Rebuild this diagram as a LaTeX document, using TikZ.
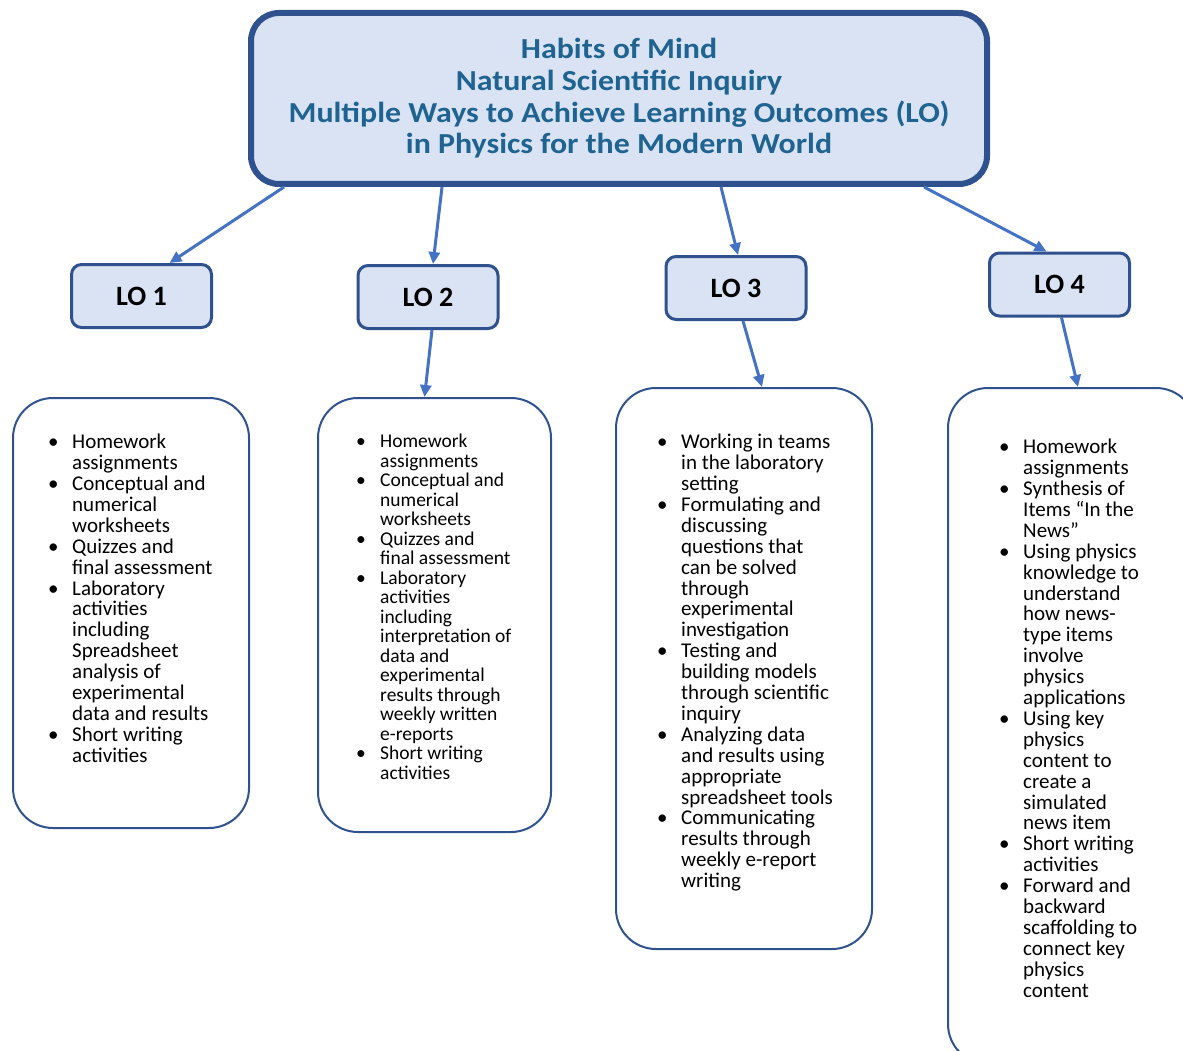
\documentclass[tikz,border=0pt]{standalone}
\usepackage{fontspec}
\setmainfont{Carlito}
\newfontfamily\titlefont[FakeStretch=1.1]{Carlito}
\usetikzlibrary{positioning, arrows.meta, calc}

\definecolor{boxfill}{HTML}{DAE3F3}
\definecolor{boxline}{HTML}{2F528F}
\definecolor{arrowblue}{HTML}{4472C4}
\definecolor{titleblue}{HTML}{1F6391}

\newcommand{\bul}{\makebox[24pt][l]{\textbullet}}
\newcommand{\ind}{\hspace*{24pt}}

\begin{document}
\begin{tikzpicture}[
        x=1pt, y=-1pt,
        >={Triangle[length=12pt, width=11pt]},
        headbox/.style={draw=boxline, line width=6pt, fill=boxfill, rounded corners=28pt, minimum width=736pt, minimum height=171pt, align=center, text=titleblue, font=\titlefont\bfseries\fontsize{29}{31.7}\selectfont},
        lobox/.style={draw=boxline, line width=3pt, fill=boxfill, rounded corners=10pt, minimum width=140pt, minimum height=63pt, font=\bfseries\fontsize{28}{30}\selectfont},
        listbox/.style={draw=boxline, line width=2pt, rounded corners=40pt},
        listtext/.style={anchor=north west, inner sep=0pt, align=left, font=\fontsize{21}{20.9}\selectfont},
        link/.style={->, draw=arrowblue, line width=3pt}
        ]

        \useasboundingbox (0,0) rectangle (1183,1051);
        \clip (0,0) rectangle (1183,1051);

        % Nodes
        \node[headbox] (Head) at (619, 98.5) {Habits of Mind \\ Natural Scientific Inquiry \\ Multiple Ways to Achieve Learning Outcomes (LO) \\ in Physics for the Modern World};

        \node[lobox] (LOa) at (141.5, 296) {LO 1};
        \node[lobox] (LOb) at (428, 297) {LO 2};
        \node[lobox] (LOc) at (736, 288) {LO 3};
        \node[lobox] (LOd) at (1059.5, 284.5) {LO 4};

        % Boxes with the lists
        \node[listbox, minimum width=236pt, minimum height=430pt] (Lista) at (131, 613) {};
        \node[listbox, minimum width=233pt, minimum height=434pt] (Listb) at (434.5, 615) {};
        \node[listbox, minimum width=256pt, minimum height=561pt] (Listc) at (744, 668.5) {};
        \node[listbox, minimum width=248pt, minimum height=676pt] (Listd) at (1072, 726) {};

        \node[listtext] (Texta) at ([xshift=36pt, yshift=-37pt]Lista.north west) {
            \bul Homework \\ \ind assignments \\
            \bul Conceptual and \\ \ind numerical \\ \ind worksheets \\
            \bul Quizzes and \\ \ind final assessment \\
            \bul Laboratory \\ \ind activities \\ \ind including \\ \ind Spreadsheet \\ \ind analysis of \\ \ind experimental \\ \ind data and results \\
            \bul Short writing \\ \ind activities};

        \node[listtext, font=\fontsize{19.5}{19.5}\selectfont] (Textb) at ([xshift=39pt, yshift=-37pt]Listb.north west) {
            \bul Homework \\ \ind assignments \\
            \bul Conceptual and \\ \ind numerical \\ \ind worksheets \\
            \bul Quizzes and \\ \ind final assessment \\
            \bul Laboratory \\ \ind activities \\ \ind including \\ \ind interpretation of \\ \ind data and \\ \ind experimental \\ \ind results through \\ \ind weekly written \\ \ind e-reports \\
            \bul Short writing \\ \ind activities};

        \node[listtext] (Textc) at ([xshift=42pt, yshift=-47pt]Listc.north west) {
            \bul Working in teams \\ \ind in the laboratory \\ \ind setting \\
            \bul Formulating and \\ \ind discussing \\ \ind questions that \\ \ind can be solved \\ \ind through \\ \ind experimental \\ \ind investigation \\
            \bul Testing and \\ \ind building models \\ \ind through scientific \\ \ind inquiry \\
            \bul Analyzing data \\ \ind and results using \\ \ind appropriate \\ \ind spreadsheet tools \\
            \bul Communicating \\ \ind results through \\ \ind weekly e-report \\ \ind writing};

        \node[listtext] (Textd) at ([xshift=52pt, yshift=-52pt]Listd.north west) {
            \bul Homework \\ \ind assignments \\
            \bul Synthesis of \\ \ind Items “In the \\ \ind News” \\
            \bul Using physics \\ \ind knowledge to \\ \ind understand \\ \ind how news- \\ \ind type items \\ \ind involve \\ \ind physics \\ \ind applications \\
            \bul Using key \\ \ind physics \\ \ind content to \\ \ind create a \\ \ind simulated \\ \ind news item \\
            \bul Short writing \\ \ind activities \\
            \bul Forward and \\ \ind backward \\ \ind scaffolding to \\ \ind connect key \\ \ind physics \\ \ind content};

        % Arrows
        % Head -> LO boxes
        \draw[link] ([xshift=-335pt]Head.south) -- ([xshift=28pt]LOa.north);
        \draw[link] ([xshift=-177pt]Head.south) -- ([xshift=5pt]LOb.north);
        \draw[link] ([xshift=102pt]Head.south) -- ([xshift=2pt]LOc.north);
        \draw[link] ([xshift=305pt]Head.south) -- ([xshift=-13pt]LOd.north);

        % LO boxes -> lists
        \draw[link] ([xshift=4pt]LOb.south) -- ([xshift=-10pt]Listb.north);
        \draw[link] ([xshift=7pt]LOc.south) -- ([xshift=18pt]Listc.north);
        \draw[link] ([xshift=2pt]LOd.south) -- ([xshift=6pt]Listd.north);

    \end{tikzpicture}
\end{document}
